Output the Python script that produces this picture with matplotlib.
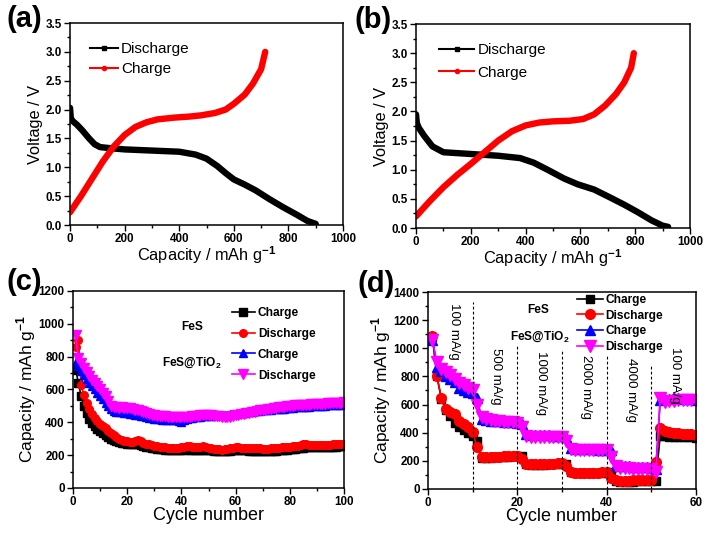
import matplotlib
matplotlib.use("Agg")
import matplotlib.pyplot as plt
from matplotlib.ticker import MultipleLocator

plt.rcParams['font.family'] = ['Liberation Sans', 'DejaVu Sans']
plt.rcParams['font.weight'] = 'bold'
plt.rcParams['mathtext.fontset'] = 'custom'
plt.rcParams['mathtext.rm'] = 'Liberation Sans'
plt.rcParams['mathtext.bf'] = 'Liberation Sans:bold'

# ---------------- data ----------------
# (a) FeS voltage profiles
a_dis_cap = [0, 3, 10, 25, 45, 70, 90, 110, 150, 200, 300, 400, 460, 500, 540, 570, 600, 640, 680, 730, 780, 830, 870, 900]
a_dis_v = [2.03, 1.85, 1.80, 1.74, 1.64, 1.50, 1.40, 1.35, 1.33, 1.31, 1.29, 1.27, 1.22, 1.15, 1.02, 0.90, 0.79, 0.70, 0.60, 0.45, 0.31, 0.18, 0.07, 0.02]
a_chg_cap = [0, 40, 80, 120, 160, 200, 240, 280, 320, 380, 440, 480, 530, 570, 600, 640, 670, 700, 715]
a_chg_v = [0.22, 0.50, 0.80, 1.10, 1.36, 1.56, 1.70, 1.78, 1.83, 1.86, 1.88, 1.90, 1.94, 2.00, 2.10, 2.26, 2.45, 2.70, 3.00]

# (b) FeS@TiO2 voltage profiles
b_dis_cap = [0, 3, 10, 30, 60, 100, 200, 300, 380, 430, 480, 540, 590, 650, 710, 760, 810, 860, 900, 920]
b_dis_v = [1.95, 1.80, 1.72, 1.58, 1.40, 1.30, 1.27, 1.24, 1.20, 1.12, 1.00, 0.85, 0.75, 0.66, 0.52, 0.40, 0.27, 0.13, 0.04, 0.02]
b_chg_cap = [0, 50, 100, 150, 200, 250, 300, 350, 400, 450, 500, 560, 610, 650, 690, 730, 760, 785, 795]
b_chg_v = [0.20, 0.46, 0.70, 0.91, 1.10, 1.30, 1.50, 1.66, 1.76, 1.81, 1.83, 1.84, 1.87, 1.95, 2.10, 2.30, 2.50, 2.75, 3.00]

# (c) cycling at 100 mA/g, cycles 1..100
c_cycles = list(range(1, 101))
c_fes_charge = [720, 640, 560, 500, 455, 420, 395, 375, 358, 345,
                332, 320, 310, 300, 292, 285, 280, 275, 272, 270,
                268, 266, 265, 270, 262, 258, 252, 248, 245, 242,
                240, 238, 236, 234, 232, 232, 231, 230, 230, 231,
                233, 236, 234, 232, 231, 232, 233, 234, 232, 230,
                229, 228, 226, 225, 224, 225, 227, 228, 229, 230,
                231, 230, 229, 229, 228, 228, 227, 227, 226, 226,
                227, 227, 226, 226, 228, 230, 232, 233, 234, 236,
                238, 240, 242, 244, 246, 248, 249, 249, 250, 250,
                250, 251, 251, 251, 252, 252, 252, 253, 253, 254]
c_fes_discharge = [860, 900, 630, 565, 520, 480, 450, 425, 405, 392,
                   380, 365, 350, 335, 320, 308, 298, 292, 288, 285,
                   283, 282, 285, 295, 285, 275, 270, 265, 262, 258,
                   255, 252, 250, 248, 246, 245, 244, 243, 244, 248,
                   252, 258, 255, 250, 248, 248, 250, 254, 250, 245,
                   242, 240, 238, 236, 234, 236, 240, 244, 246, 247,
                   247, 246, 246, 245, 245, 244, 243, 242, 242, 240,
                   240, 240, 241, 242, 243, 245, 247, 249, 251, 252,
                   254, 256, 258, 262, 266, 265, 263, 262, 262, 263,
                   264, 264, 263, 263, 264, 265, 265, 266, 266, 267]
c_tio_charge = [770, 740, 710, 690, 665, 640, 620, 600, 580, 560,
                540, 520, 500, 480, 470, 465, 462, 460, 458, 455,
                452, 450, 447, 445, 440, 436, 432, 428, 425, 422,
                420, 418, 417, 416, 415, 414, 413, 412, 410, 400,
                412, 420, 425, 428, 430, 432, 434, 436, 438, 440,
                441, 442, 443, 444, 445, 446, 447, 448, 450, 452,
                454, 456, 458, 460, 462, 464, 466, 468, 470, 472,
                474, 476, 478, 480, 481, 482, 483, 484, 486, 488,
                490, 491, 492, 493, 494, 495, 496, 497, 498, 499,
                500, 501, 502, 503, 504, 505, 506, 507, 508, 510]
c_tio_discharge = [930, 790, 760, 730, 705, 680, 660, 640, 620, 600,
                   580, 560, 530, 500, 495, 492, 490, 492, 490, 488,
                   485, 480, 476, 472, 468, 462, 456, 450, 446, 442,
                   440, 438, 437, 436, 435, 434, 433, 432, 431, 430,
                   430, 432, 434, 436, 438, 440, 442, 444, 444, 444,
                   442, 440, 438, 436, 434, 432, 432, 434, 438, 442,
                   446, 450, 452, 455, 458, 461, 464, 468, 472, 475,
                   478, 480, 483, 486, 489, 492, 494, 496, 498, 500,
                   502, 503, 504, 505, 506, 507, 508, 509, 510, 511,
                   512, 513, 514, 515, 516, 517, 518, 519, 520, 522]

# (d) rate capability, cycles 1..60
d_cycles = list(range(1, 61))
d_fes_charge = [1080, 800, 640, 560, 520, 470, 440, 420, 400, 380,
                340, 220, 220, 222, 224, 226, 228, 230, 232, 234,
                232, 175, 172, 172, 173, 174, 175, 176, 177, 178,
                180, 118, 114, 113, 113, 113, 114, 114, 115, 115,
                120, 55, 52, 52, 53, 53, 54, 54, 55, 55,
                60, 380, 375, 373, 372, 371, 370, 368, 367, 365]
d_fes_discharge = [1090, 800, 650, 570, 550, 530, 480, 460, 440, 405,
                   295, 225, 225, 226, 228, 230, 232, 234, 235, 236,
                   210, 180, 178, 178, 179, 180, 180, 181, 182, 182,
                   160, 120, 117, 116, 116, 116, 117, 117, 118, 118,
                   80, 62, 60, 60, 60, 61, 61, 62, 62, 62,
                   190, 430, 410, 402, 398, 395, 392, 390, 388, 385]
d_tio_charge = [1060, 870, 840, 800, 780, 760, 720, 700, 690, 680,
                650, 500, 490, 485, 482, 480, 478, 476, 474, 472,
                465, 390, 385, 384, 383, 382, 381, 380, 380, 380,
                370, 290, 285, 284, 283, 282, 281, 280, 280, 280,
                275, 170, 165, 163, 161, 159, 157, 155, 153, 150,
                140, 630, 640, 642, 645, 645, 642, 640, 638, 635]
d_tio_discharge = [1060, 900, 850, 830, 810, 780, 750, 740, 720, 700,
                   600, 510, 495, 490, 485, 480, 478, 476, 474, 472,
                   440, 380, 372, 370, 370, 370, 370, 370, 370, 370,
                   340, 285, 280, 280, 280, 280, 280, 280, 280, 280,
                   230, 160, 150, 148, 146, 145, 144, 143, 142, 140,
                   120, 650, 620, 625, 628, 630, 630, 630, 632, 632]

d_rate_x = [10, 20, 30, 40, 50]
d_rate_top = [1330, 1020, 990, 955, 890]
d_rate_labels = ["100 mA/g", "500 mA/g", "1000 mA/g", "2000 mA/g", "4000 mA/g", "100 mA/g"]
d_label_x = [5.8, 15.2, 25.3, 35.4, 45.4, 55.2]
d_label_top = [1320, 1000, 980, 955, 930, 1010]

# ---------------- figure ----------------
fig = plt.figure(figsize=(7.08, 5.35), dpi=100)
axA = fig.add_axes([0.0989, 0.5794, 0.3856, 0.3776])
axB = fig.add_axes([0.5876, 0.5738, 0.3870, 0.3813])
axC = fig.add_axes([0.1031, 0.0879, 0.3828, 0.3682])
axD = fig.add_axes([0.6045, 0.0860, 0.3785, 0.3682])

def style(ax):
    for s in ax.spines.values():
        s.set_linewidth(1.1)
    ax.tick_params(which='both', direction='out', top=False, right=False, width=1.0)
    ax.tick_params(which='major', length=4.5, labelsize=8.4, pad=1.5)
    ax.tick_params(which='minor', length=2.5)

# (a) and (b)
for ax, dc, dv, cc, cv in [(axA, a_dis_cap, a_dis_v, a_chg_cap, a_chg_v),
                           (axB, b_dis_cap, b_dis_v, b_chg_cap, b_chg_v)]:
    ax.plot(dc, dv, color='black', lw=4.6, solid_capstyle='round', label='_nolegend_')
    ax.plot(cc, cv, color='red', lw=4.6, solid_capstyle='round', label='_nolegend_')
    ax.plot([], [], color='black', lw=1.5, marker='s', ms=3, label='Discharge')
    ax.plot([], [], color='red', lw=1.5, marker='o', ms=3, label='Charge')
    ax.set_xlim(0, 1000)
    ax.set_ylim(0, 3.5)
    ax.xaxis.set_major_locator(MultipleLocator(200))
    ax.xaxis.set_minor_locator(MultipleLocator(100))
    ax.yaxis.set_major_locator(MultipleLocator(0.5))
    ax.yaxis.set_minor_locator(MultipleLocator(0.25))
    ax.set_xlabel('Capacity / mAh g$^{-1}$', fontsize=11.8, fontweight='normal', labelpad=-1)
    ax.set_ylabel('Voltage / V', fontsize=11.8, fontweight='normal', labelpad=2)
    style(ax)

axA.legend(loc='upper left', bbox_to_anchor=(0.075, 0.905), frameon=False,
           prop={'weight': 'normal', 'size': 11},
           handlelength=1.8, handletextpad=0.2, labelspacing=0.4, borderpad=0, borderaxespad=0)
axB.legend(loc='upper left', bbox_to_anchor=(0.085, 0.905), frameon=False,
           prop={'weight': 'normal', 'size': 11},
           handlelength=2.3, handletextpad=0.2, labelspacing=0.55, borderpad=0, borderaxespad=0)

# (c)
msC = 5.5
axC.plot(c_cycles, c_fes_charge, color='black', marker='s', ms=msC, lw=1.2, label='Charge')
axC.plot(c_cycles, c_fes_discharge, color='red', marker='o', ms=msC, lw=1.2, label='Discharge')
axC.plot(c_cycles, c_tio_charge, color='blue', marker='^', ms=msC, lw=1.2, label='Charge')
axC.plot(c_cycles, c_tio_discharge, color='magenta', marker='v', ms=msC + 1, lw=1.2, label='Discharge')
axC.set_xlim(0, 100)
axC.set_ylim(0, 1200)
axC.xaxis.set_major_locator(MultipleLocator(20))
axC.xaxis.set_minor_locator(MultipleLocator(10))
axC.yaxis.set_major_locator(MultipleLocator(200))
axC.yaxis.set_minor_locator(MultipleLocator(100))
axC.set_xlabel('Cycle number', fontsize=13, fontweight='normal', labelpad=-1)
axC.set_ylabel('Capacity / mAh g$^{-1}$', fontsize=12.5, fontweight='normal', labelpad=0.5)
style(axC)
axC.legend(loc='upper left', bbox_to_anchor=(0.585, 0.92), frameon=False,
           prop={'weight': 'bold', 'size': 8.6}, handlelength=2.0, handletextpad=0.2,
           labelspacing=0.75, borderpad=0, borderaxespad=0)
axC.text(44, 980, 'FeS', fontsize=8.6, fontweight='bold', ha='center', va='center')
axC.text(44, 760, r'FeS@TiO$_\mathbf{2}$', fontsize=8.6, fontweight='bold', ha='center', va='center')

# (d)
msD = 7
axD.plot(d_cycles, d_fes_charge, color='black', marker='s', ms=msD - 1, lw=1.2, label='Charge')
axD.plot(d_cycles, d_fes_discharge, color='red', marker='o', ms=msD, lw=1.2, label='Discharge')
axD.plot(d_cycles, d_tio_charge, color='blue', marker='^', ms=msD, lw=1.2, label='Charge')
axD.plot(d_cycles, d_tio_discharge, color='magenta', marker='v', ms=msD + 1, lw=1.2, label='Discharge')
axD.vlines(d_rate_x, 0, d_rate_top, colors='black', linestyles=(0, (2.5, 2)), lw=0.8)
for x, y, t in zip(d_label_x, d_label_top, d_rate_labels):
    axD.text(x, y, t, rotation=270, ha='center', va='top', fontsize=9.5, fontweight='normal')
axD.set_xlim(0, 60)
axD.set_ylim(0, 1400)
axD.xaxis.set_major_locator(MultipleLocator(20))
axD.xaxis.set_minor_locator(MultipleLocator(10))
axD.yaxis.set_major_locator(MultipleLocator(200))
axD.yaxis.set_minor_locator(MultipleLocator(100))
axD.set_xlabel('Cycle number', fontsize=13, fontweight='normal', labelpad=-1)
axD.set_ylabel('Capacity / mAh g$^{-1}$', fontsize=12.5, fontweight='normal', labelpad=0.5)
style(axD)
axD.legend(loc='upper left', bbox_to_anchor=(0.555, 0.99), frameon=False,
           prop={'weight': 'bold', 'size': 8.6}, handlelength=2.2, handletextpad=0.2,
           labelspacing=0.3, borderpad=0, borderaxespad=0)
axD.text(24.6, 1272, 'FeS', fontsize=8.6, fontweight='bold', ha='center', va='center')
axD.text(25, 1080, r'FeS@TiO$_\mathbf{2}$', fontsize=8.6, fontweight='bold', ha='center', va='center')

# panel labels
for x, y, t in [(7, 19, '(a)'), (354, 20, '(b)'), (6, 282, '(c)'), (358, 284, '(d)')]:
    fig.text(x / 708, 1 - y / 535, t, fontsize=21, fontweight='bold', ha='left', va='center')

# make sure tick labels are bold
fig.canvas.draw()
for ax in (axA, axB, axC, axD):
    for lab in ax.get_xticklabels() + ax.get_yticklabels():
        lab.set_fontweight('bold')

fig.savefig('out.png', dpi=100)
